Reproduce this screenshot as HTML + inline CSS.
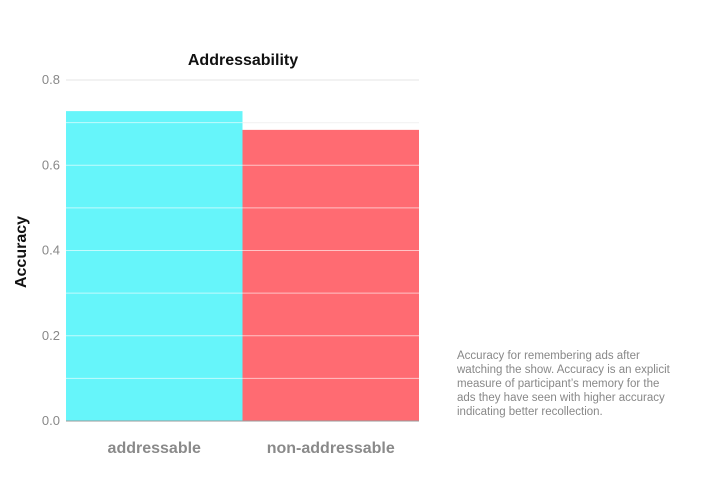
<!DOCTYPE html>
<html><head><meta charset="utf-8">
<style>
body{margin:0;background:#fff;width:728px;height:501px;overflow:hidden;font-family:"Liberation Sans",sans-serif;}
svg{display:block}
</style></head>
<body>
<svg width="728" height="501">
<g id="chart"></g>
<text x="243" y="65" text-anchor="middle" font-size="16" font-weight="bold" fill="#111">Addressability</text>
<text transform="translate(26,252) rotate(-90)" text-anchor="middle" font-size="16" font-weight="bold" fill="#111">Accuracy</text>
<g font-size="11.5" fill="#888">
<text x="457" y="359">Accuracy for remembering ads after</text>
<text x="457" y="373">watching the show. Accuracy is an explicit</text>
<text x="457" y="387">measure of participant’s memory for the</text>
<text x="457" y="401">ads they have seen with higher accuracy</text>
<text x="457" y="415">indicating better recollection.</text>
</g>
</svg>
<script>
const categories=["addressable","non-addressable"];
const values=[0.727,0.683];
const colors=["#66f5fa","#ff6b72"];
const yTicks=[0,0.2,0.4,0.6,0.8];
const gridVals=[0.1,0.2,0.3,0.4,0.5,0.6,0.7,0.8];
const x0=66,x1=419,yBase=421,yTop=80,yMax=0.8;
const y=v=>yBase-(v/yMax)*(yBase-yTop);
const bw=(x1-x0)/categories.length;
const xb=i=>x0+i*bw;
const g=document.getElementById('chart');
const NS="http://www.w3.org/2000/svg";
function mk(t,a){const e=document.createElementNS(NS,t);for(const k in a)e.setAttribute(k,a[k]);g.appendChild(e);return e;}
gridVals.forEach(v=>{const l=mk('line',{x1:x0,x2:x1,y1:y(v),y2:y(v),stroke:'#e6e6e6','stroke-width':1});

});
categories.forEach((c,i)=>{
const r=mk('rect',{x:xb(i),y:y(values[i]),width:bw,height:yBase-y(values[i]),fill:colors[i]});


const t=mk('text',{x:xb(i)+bw/2,y:453,'text-anchor':'middle','font-size':16,'font-weight':'bold',fill:'#8a8a8a'});
t.textContent=c;


});
gridVals.forEach(v=>{if(v>Math.max(...values))return;const l=mk('line',{x1:x0,x2:x1,y1:y(v),y2:y(v),stroke:'#fff','stroke-opacity':0.6,'stroke-width':1});

});
const ax=mk('line',{x1:x0,x2:x1,y1:yBase,y2:yBase,stroke:'#999','stroke-width':1});


yTicks.forEach(v=>{const t=mk('text',{x:60,y:y(v)+4,'text-anchor':'end','font-size':13,fill:'#888'});
t.textContent=v.toFixed(1);

});
</script>
</body></html>
